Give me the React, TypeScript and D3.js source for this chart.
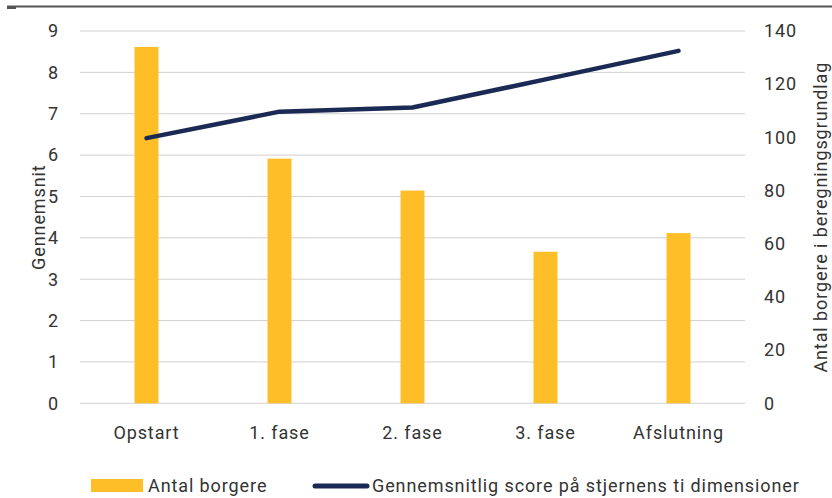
import React from "react";
import * as d3 from "d3";

const categories = ["Opstart", "1. fase", "2. fase", "3. fase", "Afslutning"];
const borgere = [134, 92, 80, 57, 64];
const score = [6.41, 7.05, 7.15, 7.83, 8.52];
const leftTicks = [0, 1, 2, 3, 4, 5, 6, 7, 8, 9];
const rightTicks = [0, 20, 40, 60, 80, 100, 120, 140];
const legendBar = "Antal borgere";
const legendLine = "Gennemsnitlig score på stjernens ti dimensioner";
const leftTitle = "Gennemsnit";
const rightTitle = "Antal borgere i beregningsgrundlag";

const W = 832, H = 498;
const X0 = 80, X1 = 745, Y0 = 403.3, Y1 = 31;
const FONT = "Roboto, 'DejaVu Sans', sans-serif";
const FS = 18;
const LS = 0.9;
const TXT = "#333";
const YEL = "#FDBE28";
const NAVY = "#1B2A55";

export default function App() {
  const x = d3.scaleBand<string>().domain(categories).range([X0, X1]).paddingInner(0.82).paddingOuter(0.41);
  const yL = d3.scaleLinear().domain([0, 9]).range([Y0, Y1]);
  const yR = d3.scaleLinear().domain([0, 140]).range([Y0, Y1]);
  const cx = (c: string) => (x(c) ?? 0) + x.bandwidth() / 2;
  const line = d3.line<number>().x((_, i) => cx(categories[i])).y((d) => yL(d));
  return (
    <svg width={W} height={H} style={{ position: "absolute", left: 0, top: 0 }} fontFamily={FONT} letterSpacing={LS}>
      <rect width={W} height={H} fill="#fff" />
      <line x1={7} x2={832} y1={6.5} y2={6.5} stroke="#555" strokeWidth={2} />
      <line x1={7} x2={16} y1={8} y2={8} stroke="#555" strokeWidth={2} />
      {leftTicks.map((t) => (
        <g key={t}>
          <line x1={X0} x2={X1} y1={yL(t)} y2={yL(t)} stroke="#d0d0d0" strokeWidth={1} />
          <text x={59} y={yL(t)} dy="0.35em" textAnchor="end" fontSize={FS} fill={TXT}>{t}</text>
        </g>
      ))}
      {rightTicks.map((t) => (
        <text key={t} x={764} y={yR(t)} dy="0.35em" textAnchor="start" fontSize={FS} fill={TXT}>{t}</text>
      ))}
      {categories.map((c, i) => (
        <g key={c}>
          <rect x={x(c)} y={yR(borgere[i])} width={x.bandwidth()} height={Y0 - yR(borgere[i])} fill={YEL} />
          <text x={cx(c)} y={433} dy="0.35em" textAnchor="middle" fontSize={FS} fill={TXT}>{c}</text>
        </g>
      ))}
      <path d={line(score) ?? ""} fill="none" stroke={NAVY} strokeWidth={4.5} strokeLinecap="round" strokeLinejoin="round" />
      <text transform={`translate(39,${(Y0 + Y1) / 2}) rotate(-90)`} textAnchor="middle" dy="0.35em" fontSize={FS} fill={TXT}>{leftTitle}</text>
      <text transform={`translate(821,${(Y0 + Y1) / 2}) rotate(-90)`} textAnchor="middle" dy="0.35em" fontSize={FS} fill={TXT}>{rightTitle}</text>
      <rect x={91} y={479} width={52} height={13} fill={YEL} />
      <text x={148} y={486} dy="0.35em" fontSize={FS} fill={TXT}>{legendBar}</text>
      <line x1={315} x2={367} y1={486} y2={486} stroke={NAVY} strokeWidth={5} strokeLinecap="round" />
      <text x={372} y={486} dy="0.35em" fontSize={FS} fill={TXT}>{legendLine}</text>
    </svg>
  );
}
